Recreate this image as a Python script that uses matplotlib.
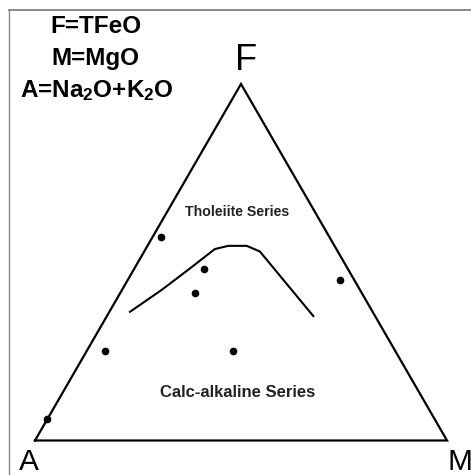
import matplotlib
matplotlib.use('Agg')
import matplotlib.pyplot as plt
from matplotlib.lines import Line2D
import numpy as np

plt.rcParams['font.family'] = 'Liberation Sans'
plt.rcParams['mathtext.fontset'] = 'custom'
plt.rcParams['mathtext.rm'] = 'Liberation Sans:bold'
plt.rcParams['mathtext.default'] = 'rm'

# sample points as fractions of F and M (A = 1 - F - M)
sample_F = [0.57, 0.48, 0.415, 0.45, 0.25, 0.25, 0.06]
sample_M = [0.02, 0.17, 0.18, 0.515, 0.045, 0.355, 0.0]

# tholeiite / calc-alkaline dividing line
line_F = [0.361, 0.422, 0.483, 0.537, 0.546, 0.546, 0.530, 0.349]
line_M = [0.050, 0.096, 0.135, 0.168, 0.196, 0.241, 0.281, 0.501]


def to_xy(F, M):
    F = np.asarray(F, dtype=float)
    M = np.asarray(M, dtype=float)
    return M + 0.5 * F, F * np.sqrt(3) / 2


W, H = 471, 475
fig = plt.figure(figsize=(W / 100, H / 100), dpi=100)
ax = fig.add_axes([35 / W, 34.5 / H, 412 / W, 356.5 / H])
ax.set_xlim(0, 1)
ax.set_ylim(0, np.sqrt(3) / 2)
ax.axis('off')


def px(x, y):
    # figure pixel position (from top-left) -> figure fraction
    return x / W, 1 - y / H


# triangle A -> M -> F -> A
ax.plot(*to_xy([0, 0, 1, 0], [0, 1, 0, 0]), color='black', lw=1.6,
        clip_on=False, solid_joinstyle='miter')
ax.plot(*to_xy(line_F, line_M), color='black', lw=1.5, clip_on=False)
ax.plot(*to_xy(sample_F, sample_M), 'o', color='black', ms=4.5, clip_on=False)

# partial frame (top and left)
fig.add_artist(Line2D([8.5 / W, 8.5 / W], [0, 1 - 9.5 / H],
                      transform=fig.transFigure, color='#888888', lw=1))
fig.add_artist(Line2D([8.5 / W, 1], [1 - 9.5 / H, 1 - 9.5 / H],
                      transform=fig.transFigure, color='#777777', lw=1.2))

# corner labels
fig.text(*px(246, 70), 'F', fontsize=26, ha='center', va='baseline')
fig.text(*px(28.5, 469.5), 'A', fontsize=21.5, ha='center', va='baseline')
fig.text(*px(460, 470), 'M', fontsize=21.5, ha='center', va='baseline')

# legend of components
fig.text(*px(96, 33.3), 'F=TFeO', fontsize=17.5, fontweight='bold',
         ha='center', va='baseline')
fig.text(*px(95, 65), 'M=MgO', fontsize=17.5, fontweight='bold',
         ha='center', va='baseline')
fig.text(*px(97, 96.7), r'A=Na$_2$O+K$_2$O', fontsize=17.5, fontweight='bold',
         ha='center', va='baseline')

# field labels
fig.text(*px(237.5, 216.5), 'Tholeiite Series', fontsize=10.2,
         fontweight='bold', color='#222222', ha='center', va='baseline')
fig.text(*px(237.5, 397.3), 'Calc-alkaline Series', fontsize=12,
         fontweight='bold', color='#222222', ha='center', va='baseline')

fig.savefig('out.png', dpi=100)
